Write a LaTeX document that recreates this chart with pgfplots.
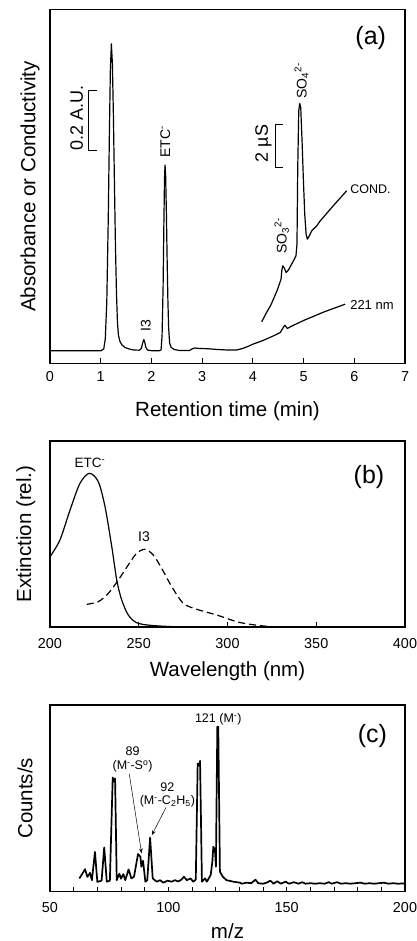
\documentclass[border=0pt]{standalone}
\usepackage{fontspec}
\setmainfont{Liberation Sans}
\usepackage{pgfplots}
\pgfplotsset{compat=1.18}
\usetikzlibrary{arrows.meta}
\newcommand\fs[1]{\fontsize{#1}{#1}\selectfont}
\pgfplotsset{
  panel/.style={
    scale only axis, width=355pt, anchor=south west,
    axis line style={line width=1.1pt},
    ytick=\empty, tick align=inside, tick pos=left,
    major tick length=5pt, minor tick length=5pt,
    every tick/.style={line width=0.9pt, black},
    /pgf/number format/assume math mode=true,
    tick label style={font=\fs{14.4}},
    label style={font=\fs{20.5}},
    clip=false,
    every axis plot/.append style={line join=round},
  }
}
\begin{document}
\begin{tikzpicture}
\path[use as bounding box] (0,0) rectangle (417pt,941pt);
% ---------------- (a)
\begin{axis}[panel, at={(50pt,577.5pt)}, height=354.2pt,
  xmin=0, xmax=7, ymin=0, ymax=354.2, xtick={0,1,...,7},
  xticklabel style={anchor=center, yshift=-12.7pt},
  xlabel={Retention time (min)},
  xlabel style={at={(axis description cs:0.5,0)}, anchor=center, yshift=-47.5pt},
  ylabel={Absorbance or Conductivity},
  ylabel style={at={(axis description cs:-0.0563,0.5)}, anchor=center}]
\addplot[black, line width=1.2pt] coordinates {
(0,12.7)(1.00,12.7)(1.06,14.5)(1.09,24.4)(1.12,62)(1.15,148.7)(1.17,226.4)(1.19,293)(1.21,319.7)(1.23,300)(1.25,248.5)(1.27,182)(1.29,119)(1.31,71.6)(1.33,41)(1.35,28)(1.38,22)(1.42,18.5)(1.48,16)(1.56,14.5)(1.65,13.5)(1.76,13.3)(1.80,15)(1.83,21)(1.85,24)(1.87,21)(1.89,16)(1.92,13.5)(2.0,12.8)(2.15,12.8)(2.19,13.5)(2.21,28)(2.23,76.6)(2.245,138)(2.258,185)(2.268,198.4)(2.28,188)(2.295,150.7)(2.31,103)(2.325,62)(2.34,35)(2.36,20)(2.39,16)(2.45,14)(2.55,13)(2.75,13)(2.80,14.5)(2.85,15.5)(2.95,15)(3.1,14.8)(3.3,14)(3.5,13.5)(3.68,13.5)(3.8,15)(3.9,17)(4.0,19.3)(4.2,23)(4.4,27.5)(4.54,31)(4.6,36)(4.63,38.3)(4.68,35)(4.75,37)(5.0,43)(5.4,51.5)(5.82,59.3)};
\addplot[black, line width=1.2pt] coordinates {
(4.175,41.7)(4.27,51)(4.35,58)(4.405,64.3)(4.47,72)(4.50,76)(4.54,82)(4.556,84.3)(4.57,92.7)(4.589,97.7)(4.615,96)(4.655,91)(4.70,93.3)(4.75,98)(4.80,102.7)(4.85,107.7)(4.87,119.3)(4.885,196)(4.905,252.7)(4.924,260)(4.944,256)(4.97,222.7)(4.997,182.7)(5.023,149.3)(5.05,129.3)(5.075,124.3)(5.115,127.7)(5.16,132.7)(5.26,137.7)(5.33,142.7)(5.59,158)(5.85,172.7)};
\node[rotate=90, font=\fs{14}] at (axis cs:1.887,37.7) {I3};
\node[rotate=90, font=\fs{14}] at (axis cs:2.275,222) {ETC\textsuperscript{-}};
\node[rotate=90, font=\fs{18}] at (axis cs:0.526,245.3) {0.2 A.U.};
\draw[line width=1pt] (axis cs:0.92,273.3) -- (axis cs:0.756,273.3) -- (axis cs:0.756,213.3) -- (axis cs:0.92,213.3);
\node[rotate=90, font=\fs{18}] at (axis cs:4.21,220) {2 µS};
\draw[line width=1pt] (axis cs:4.59,239.3) -- (axis cs:4.438,239.3) -- (axis cs:4.438,196) -- (axis cs:4.59,196);
\node[rotate=90, font=\fs{14}] at (axis cs:4.96,282.7) {SO\textsubscript{4}\textsuperscript{2-}};
\node[rotate=90, font=\fs{14}] at (axis cs:4.57,127.7) {SO\textsubscript{3}\textsuperscript{2-}};
\node[anchor=west, inner sep=0pt, font=\fs{12.5}] at (axis cs:5.917,174.3) {COND.};
\node[anchor=west, inner sep=0pt, font=\fs{13}] at (axis cs:5.917,58.7) {221 nm};
\node[font=\fs{25}] at (axis cs:6.325,325.3) {(a)};
\end{axis}
% ---------------- (b)
\begin{axis}[panel, at={(50pt,314pt)}, height=186pt,
  xmin=200, xmax=400, ymin=0, ymax=186, xtick={200,250,...,400},
  xticklabel style={anchor=center, yshift=-16.7pt},
  xlabel={Wavelength (nm)},
  xlabel style={at={(axis description cs:0.5,0)}, anchor=center, yshift=-43.8pt},
  ylabel={Extinction (rel.)},
  ylabel style={at={(axis description cs:-0.068,0.5)}, anchor=center}]
\addplot[black, line width=1.2pt, smooth, tension=0.5] coordinates {
(200,70.3)(205.6,87)(211.3,117)(216.9,143.7)(222.2,153.7)(227.2,145.3)(231,120.3)(234.8,80.3)(237.6,47)(240.4,27)(244.1,12)(248.8,4.3)(256.3,1.7)(269.5,0.3)(280,0)};
\addplot[black, line width=1.2pt, smooth, tension=0.5, dash pattern=on 7pt off 4pt] coordinates {
(220.7,22.7)(227.2,25.3)(232.9,33.7)(238.5,47)(244.1,62)(248.8,73.7)(253.5,77.7)(258.2,72)(262.9,58.7)(268.6,40.3)(275.1,23.7)(282.7,17.7)(293.9,12)(305.2,5.3)(312.7,2.7)(322,0.7)(329.6,0)};
\node[font=\fs{13.5}] at (axis cs:222.5,163.7) {ETC\textsuperscript{-}};
\node[font=\fs{14}] at (axis cs:253,90.3) {I3};
\node[font=\fs{25}] at (axis cs:379.7,150.3) {(b)};
\end{axis}
% ---------------- (c)
\begin{axis}[panel, at={(50pt,49.3pt)}, height=186.7pt,
  xmin=50, xmax=200, ymin=0, ymax=186.7, xtick={50,100,150,200},
  minor xtick={60,70,80,90,110,120,130,140,160,170,180,190},
  xticklabel style={anchor=center, yshift=-16.3pt},
  xlabel={m/z},
  xlabel style={at={(axis description cs:0.5,0)}, anchor=center, yshift=-39.5pt},
  ylabel={Counts/s},
  ylabel style={at={(axis description cs:-0.07,0.5)}, anchor=center}]
\addplot[black, line width=1.7pt] coordinates {
(62.4,13.2)(64.8,22.5)(65.8,14.8)(66.9,18.8)(67.7,11.5)(69.0,39.8)(70.0,9.8)(71.8,11)(72.9,44.2)(74.0,10)(75.3,11)(76.5,114.2)(77.0,110)(77.5,113.2)(78.2,11.5)(79.3,18)(80,13)(81,17.5)(81.8,11.5)(83.2,22.3)(84.4,13.3)(85.5,15)(87.2,37.7)(88.2,35)(88.6,25)(89.3,31)(90.3,10)(91.1,11.5)(92.3,54)(93.4,13.3)(95.1,10)(96.5,11.5)(97.9,9)(99.6,11)(101.4,10)(102.8,11.5)(104.2,10.2)(105.6,12.2)(106.6,15)(107.8,11.5)(109.4,13.3)(110.5,10)(111.6,12)(112.4,128)(112.9,126)(113.4,130.8)(114.2,10)(115.5,13.3)(116.3,10)(117.9,16.7)(118.6,30)(119,45)(119.7,41.7)(120.1,25)(120.7,165)(121.1,165)(121.8,20)(123,15)(124.6,11.5)(127.5,10)(130.3,9)(131,8)(133,9)(135,8.5)(136.8,12)(138,8.5)(140,8)(141.5,9)(143.1,11)(144.5,8)(146,10.5)(147.5,8)(149.5,10)(151,8)(153,9.5)(155,8)(156.5,9.5)(158,8)(160,8.5)(162,8)(164,8.5)(166,8)(167.8,9.5)(169,8)(171.3,9.5)(173,8)(175,8.5)(177,8)(179,8.5)(181.2,9)(183,8)(185,8.5)(187,8)(189,8.5)(191,9)(193,8)(195,8.5)(197,8)(200,8.3)};
\node[font=\fs{12.5}] at (axis cs:121.1,172.2) {121 (M\textsuperscript{-})};
\node[font=\fs{12.5}] at (axis cs:84.9,140) {89};
\node[font=\fs{12.5}] at (axis cs:84.9,125) {(M\textsuperscript{-}-S\textsuperscript{o})};
\node[font=\fs{12.5}] at (axis cs:99.6,105) {92};
\node[font=\fs{12.5}] at (axis cs:99.6,90) {(M\textsuperscript{-}-C\textsubscript{2}H\textsubscript{5})};
\draw[line width=0.5pt, -{Stealth[length=5pt,width=3.5pt]}] (axis cs:83.5,117.7) -- (axis cs:88.7,38.3);
\draw[line width=0.5pt, -{Stealth[length=5pt,width=3.5pt]}] (axis cs:99,84.2) -- (axis cs:93,56.5);
\node[font=\fs{25}] at (axis cs:186.2,156) {(c)};
\end{axis}
\end{tikzpicture}
\end{document}
